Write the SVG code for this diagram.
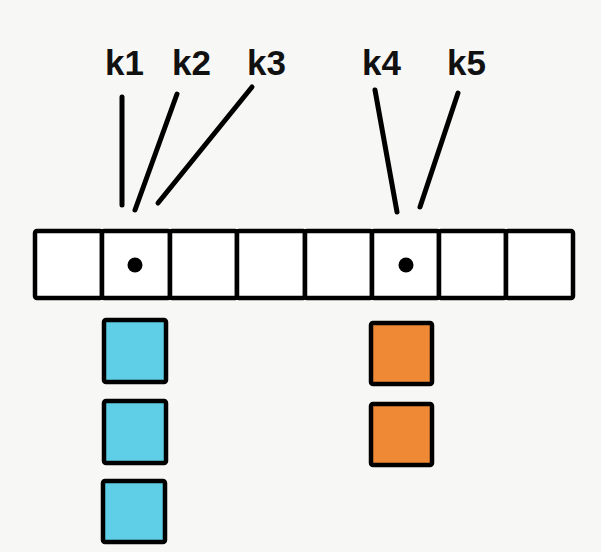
<svg xmlns="http://www.w3.org/2000/svg" width="601" height="552" viewBox="0 0 601 552">
<style>
.bg{fill:#f7f7f5}
.cell{fill:#ffffff;stroke:#000;stroke-width:4.5;stroke-linejoin:round}
.blue{fill:#5ecfe6;stroke:#000;stroke-width:4.5;stroke-linejoin:round}
.orange{fill:#f08935;stroke:#000;stroke-width:4.5;stroke-linejoin:round}
.lbl{font-family:"Liberation Sans",Arial,sans-serif;font-weight:bold;font-size:35px;fill:#111}
.ln{stroke:#000;stroke-width:5;stroke-linecap:round;fill:none}
.dot{fill:#000}
</style>
<rect class="bg" x="0" y="0" width="601" height="552"/>
<g id="labels">
<text class="lbl" x="105" y="75">k1</text>
<text class="lbl" x="172" y="75">k2</text>
<text class="lbl" x="247" y="75">k3</text>
<text class="lbl" x="362" y="75">k4</text>
<text class="lbl" x="447" y="75">k5</text>
</g>
<g id="connectors">
<line class="ln" x1="122" y1="97" x2="122" y2="205"/>
<line class="ln" x1="177" y1="94" x2="135" y2="210"/>
<line class="ln" x1="252" y1="87" x2="158" y2="203"/>
<line class="ln" x1="375" y1="90" x2="397" y2="212"/>
<line class="ln" x1="458" y1="93" x2="420" y2="207"/>
</g>
<g id="array">
<rect class="cell" x="35" y="231" width="67" height="67" rx="2"/>
<rect class="cell" x="102" y="231" width="68" height="67" rx="2"/>
<rect class="cell" x="170" y="231" width="67" height="67" rx="2"/>
<rect class="cell" x="237" y="231" width="68" height="67" rx="2"/>
<rect class="cell" x="305" y="231" width="67" height="67" rx="2"/>
<rect class="cell" x="372" y="231" width="67" height="67" rx="2"/>
<rect class="cell" x="439" y="231" width="67" height="67" rx="2"/>
<rect class="cell" x="506" y="231" width="67" height="67" rx="2"/>
<circle class="dot" cx="135" cy="265" r="7.5"/>
<circle class="dot" cx="406" cy="265" r="7.5"/>
</g>
<g id="bucket1">
<rect class="blue" x="104" y="320" width="62" height="62" rx="2"/>
<rect class="blue" x="104" y="401" width="62" height="62" rx="2"/>
<rect class="blue" x="103" y="481" width="62" height="61" rx="2"/>
</g>
<g id="bucket2">
<rect class="orange" x="371" y="323" width="61" height="61" rx="2"/>
<rect class="orange" x="371" y="404" width="61" height="61" rx="2"/>
</g>
</svg>
